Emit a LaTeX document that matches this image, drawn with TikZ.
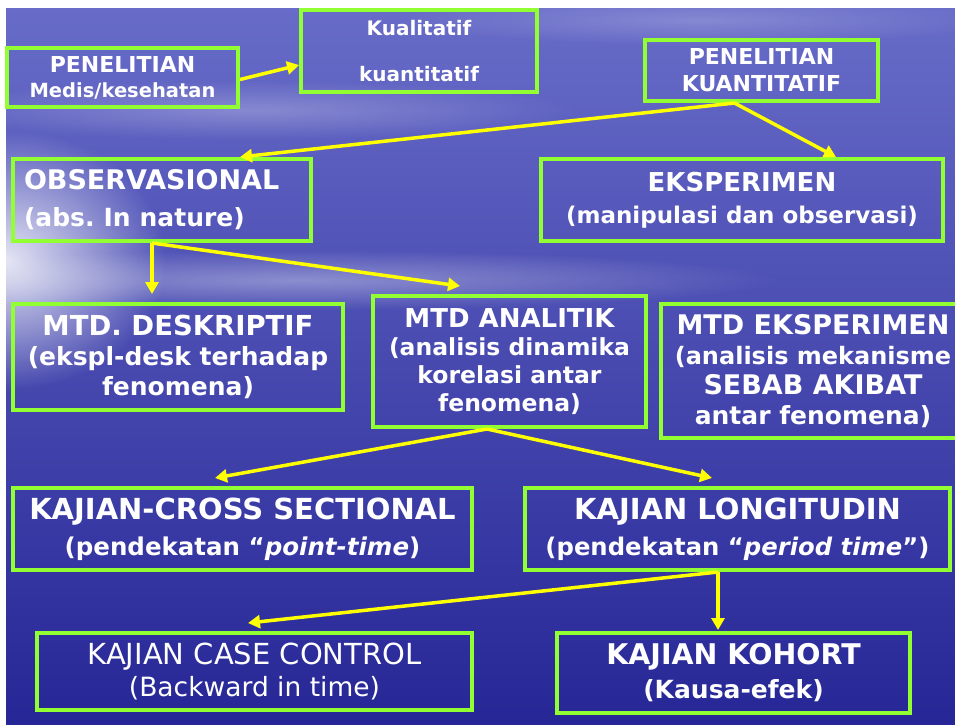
\documentclass[tikz,border=0pt]{standalone}
\usepackage{fontspec}
\setmainfont{DejaVu Sans}
\usetikzlibrary{arrows.meta}
\usetikzlibrary{fadings}
\definecolor{hijau}{RGB}{146,255,50}
\definecolor{kuning}{RGB}{255,255,0}
\definecolor{langit}{RGB}{104,108,200}
\definecolor{tengah}{RGB}{66,68,176}
\definecolor{laut}{RGB}{38,38,150}
\newcommand{\fs}[1]{\fontsize{#1}{\baselineskip}\selectfont}
\tikzfading[name=kabut, inner color=transparent!0, outer color=transparent!100]

\begin{document}
\begin{tikzpicture}[x=1pt, y=-1pt,
	kotak/.style={draw=hijau, line width=4pt, text=white, inner sep=0pt, align=center},
	panah/.style={draw=kuning, line width=3.5pt, -{Triangle[length=12pt,width=13pt]}}]
	% latar
	\useasboundingbox (0,0) rectangle (955,724);
	\fill[white] (0,0) rectangle (955,724);
	\shade[top color=langit, middle color=tengah, bottom color=laut] (6,8) rectangle (955,724);
	\fill[white, opacity=0.85, path fading=kabut] (6,260) ellipse [x radius=160pt, y radius=130pt];
	\fill[white, opacity=0.35, path fading=kabut] (300,280) ellipse [x radius=480pt, y radius=30pt];
	\fill[white, opacity=0.25, path fading=kabut] (250,110) ellipse [x radius=330pt, y radius=30pt];
	\fill[white, opacity=0.2, path fading=kabut] (700,20) ellipse [x radius=300pt, y radius=25pt];
	%\fill[white, opacity=0.2, path fading=kabut] (600,560) ellipse [x radius=300pt, y radius=20pt];
	
	\node[kotak, minimum width=231pt, minimum height=59pt, font=\bfseries\fontsize{22}{25}\selectfont] (medis) at (122.5,77.5) {PENELITIAN\\\fs{19.5}Medis/kesehatan};
	\node[kotak, minimum width=236pt, minimum height=82pt, font=\bfseries\fontsize{20}{46}\selectfont] (kual) at (419,51) {Kualitatif\\kuantitatif};
	\node[kotak, minimum width=233pt, minimum height=61pt, font=\bfseries\fontsize{22}{27}\selectfont] (kuant) at (761.5,70.5) {PENELITIAN\\KUANTITATIF};
	
	\node[kotak, minimum width=298pt, minimum height=82pt, text width=276pt, align=left, font=\bfseries\fontsize{27}{37}\selectfont] (obs) at (162,200) {OBSERVASIONAL\\\fs{25}(abs.\ In nature)};
	\node[kotak, minimum width=402pt, minimum height=82pt, font=\bfseries\fontsize{26}{32}\selectfont] (eksp) at (742,200) {EKSPERIMEN\\\fs{23}(manipulasi dan observasi)};
	
	\node[kotak, minimum width=330pt, minimum height=106pt, font=\bfseries\fontsize{27.5}{30}\selectfont] (desk) at (178,357) {MTD.\ DESKRIPTIF\\\fs{25}(ekspl-desk terhadap\\\fs{25}fenomena)};
	\node[kotak, minimum width=273pt, minimum height=131pt, font=\bfseries\fontsize{26}{28}\selectfont] (anal) at (509.5,361.5) {MTD ANALITIK\\\fs{23.5}(analisis dinamika\\\fs{23.5}korelasi antar\\\fs{23.5}fenomena)};
	\node[kotak, minimum width=304pt, minimum height=134pt, font=\bfseries\fontsize{27}{30}\selectfont] (mtdeks) at (813,371) {MTD EKSPERIMEN\\\fs{24}(analisis mekanisme\\SEBAB AKIBAT\\\fs{25}antar fenomena)};
	
	\node[kotak, minimum width=459pt, minimum height=82pt, font=\bfseries\fontsize{29}{36}\selectfont] (cross) at (242.5,529) {KAJIAN-CROSS SECTIONAL\\\fs{24.5}(pendekatan “\textit{point-time})};
	\node[kotak, minimum width=425pt, minimum height=82pt, font=\bfseries\fontsize{29}{36}\selectfont] (longi) at (737.5,529) {KAJIAN LONGITUDIN\\\fs{24.3}(pendekatan “\textit{period time}”)};
	
	\node[kotak, minimum width=435pt, minimum height=77pt, font=\fontsize{29}{32}\selectfont] (casec) at (254.5,671.5) {KAJIAN CASE CONTROL\\\fs{26.5}(Backward in time)};
	\node[kotak, minimum width=353pt, minimum height=80pt, font=\bfseries\fontsize{28.5}{34}\selectfont] (kohort) at (733.5,673) {KAJIAN KOHORT\\\fs{25}(Kausa-efek)};
	
	\draw[panah] ([yshift=-2pt]medis.east) -- ([yshift=-14pt]kual.west);
	\draw[panah] ([xshift=-27pt]kuant.south) -- ([xshift=78pt]obs.north);
	\draw[panah] ([xshift=-27pt]kuant.south) -- ([xshift=94pt]eksp.north);
	\draw[panah] ([xshift=-10pt]obs.south) -- ([xshift=-26pt,yshift=8pt]desk.north);
	\draw[panah] ([xshift=-10pt]obs.south) -- ([xshift=-49.5pt,yshift=8pt]anal.north);
	\draw[panah] ([xshift=-22.5pt]anal.south) -- ([xshift=-27.5pt,yshift=8pt]cross.north);
	\draw[panah] ([xshift=-22.5pt]anal.south) -- ([xshift=-25.5pt,yshift=8pt]longi.north);
	\draw[panah] ([xshift=-19.5pt]longi.south) -- ([xshift=-6.5pt,yshift=8pt]casec.north);
	\draw[panah] ([xshift=-19.5pt]longi.south) -- ([xshift=-15.5pt,yshift=1pt]kohort.north);
\end{tikzpicture}
\end{document}
